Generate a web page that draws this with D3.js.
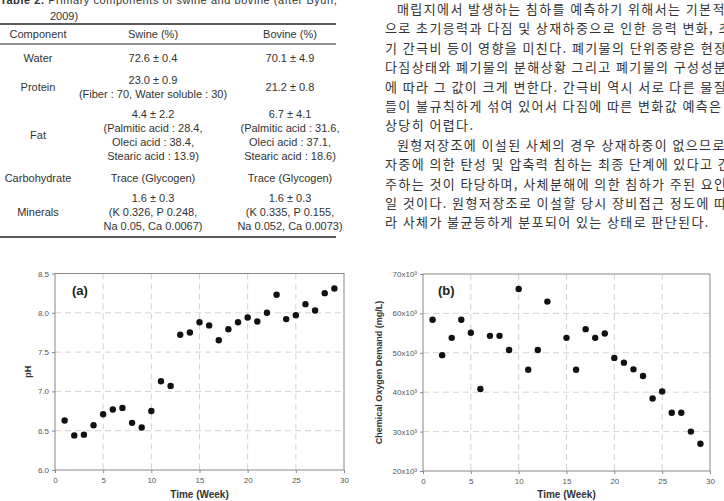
<!DOCTYPE html>
<html>
<head>
<meta charset="utf-8">
<script src="https://cdn.jsdelivr.net/npm/d3@7"></script>
<style>
  body { margin: 0; background: #fff; }
  svg { display: block; }
</style>
</head>
<body>
<svg id="page" width="724" height="501"></svg>
<script>
// Chart data
var weeksA = d3.range(1, 30)
var phValues = [6.63, 6.44, 6.45, 6.57, 6.71, 6.77, 6.79, 6.60, 6.54, 6.75,
	7.13, 7.07, 7.72, 7.75, 7.88, 7.84, 7.65, 7.79, 7.88, 7.94,
	7.89, 8.00, 8.23, 7.92, 7.97, 8.11, 8.03, 8.25, 8.31]

var weeksB = [1, 2, 3, 4, 5, 6, 7, 8, 9, 10, 11, 12, 13, 15, 16, 17, 18, 19, 20, 21, 22, 23, 24, 25, 26, 27, 28, 29]
var codValues = [58400, 49400, 53800, 58400, 55100, 40800, 54300, 54300, 50700, 66200,
	45700, 50700, 63000, 53800, 45700, 56000, 53800, 54900, 48700, 47500,
	45800, 44100, 38400, 40200, 34800, 34800, 30000, 26900]

var xTicks = [0, 5, 10, 15, 20, 25, 30]
var phTicks = [6.0, 6.5, 7.0, 7.5, 8.0, 8.5]
var codTicks = [20000, 30000, 40000, 50000, 60000, 70000]

// Table text
var tableHead = ["Component", "Swine (%)", "Bovine (%)"]
var tableComponents = ["Water", "Protein", "Fat", "Carbohydrate", "Minerals"]
var tableSwine = [
	["72.6 \u00b1 0.4"],
	["23.0 \u00b1 0.9", "(Fiber : 70, Water soluble : 30)"],
	["4.4 \u00b1 2.2", "(Palmitic acid : 28.4,", "Oleci acid : 38.4,", "Stearic acid : 13.9)"],
	["Trace (Glycogen)"],
	["1.6 \u00b1 0.3", "(K 0.326, P 0.248,", "Na 0.05, Ca 0.0067)"]
]
var tableBovine = [
	["70.1 \u00b1 4.9"],
	["21.2 \u00b1 0.8"],
	["6.7 \u00b1 4.1", "(Palmitic acid : 31.6,", "Oleci acid : 37.1,", "Stearic acid : 18.6)"],
	["Trace (Glycogen)"],
	["1.6 \u00b1 0.3", "(K 0.335, P 0.155,", "Na 0.052, Ca 0.0073)"]
]

var bodyLines = [
	"매립지에서 발생하는 침하를 예측하기 위해서는 기본적",
	"으로 초기응력과 다짐 및 상재하중으로 인한 응력 변화, 초",
	"기 간극비 등이 영향을 미친다. 폐기물의 단위중량은 현장",
	"다짐상태와 폐기물의 분해상황 그리고 폐기물의 구성성분",
	"에 따라 그 값이 크게 변한다. 간극비 역시 서로 다른 물질",
	"들이 불규칙하게 섞여 있어서 다짐에 따른 변화값 예측은",
	"상당히 어렵다.",
	"원형저장조에 이설된 사체의 경우 상재하중이 없으므로",
	"자중에 의한 탄성 및 압축력 침하는 최종 단계에 있다고 간",
	"주하는 것이 타당하며, 사체분해에 의한 침하가 주된 요인",
	"일 것이다. 원형저장조로 이설할 당시 장비접근 정도에 따",
	"라 사체가 불균등하게 분포되어 있는 상태로 판단된다."
]
var indentLines = [0, 7]

var svg = d3.select("#page")

// ---- Table ----
var tbl = svg.append("g")
	.attr("font-family", "'Liberation Sans', Arial, sans-serif")
	.attr("font-size", 11)
	.attr("fill", "#333")

var cap = tbl.append("text").attr("x", 0).attr("y", 4).attr("letter-spacing", 0.55)
cap.append("tspan").attr("font-weight", "bold").text("Table 2. ")
cap.append("tspan").text("Primary components of swine and bovine (after Byun,")
tbl.append("text").attr("x", 50).attr("y", 20).text("2009)")

var colX = [38, 153, 290]
var tableRight = 336

tbl.append("line").attr("x1", 0).attr("x2", tableRight).attr("y1", 24).attr("y2", 24)
	.attr("stroke", "#222").attr("stroke-width", 1.5)
tbl.append("line").attr("x1", 0).attr("x2", tableRight).attr("y1", 44).attr("y2", 44)
	.attr("stroke", "#222").attr("stroke-width", 1)

tbl.selectAll(".head").data(tableHead).enter().append("text")
	.attr("class", "head")
	.attr("x", function(d, i) { return colX[i] })
	.attr("y", 38)
	.attr("text-anchor", "middle")
	.text(function(d) { return d })

var lineH = 14
var rowTop = [58, 80, 114, 178, 198]
tableComponents.forEach(function(c, i) {
	var n = Math.max(tableSwine[i].length, tableBovine[i].length)
	var midY = rowTop[i] + (n - 1) * lineH / 2
	tbl.append("text").attr("x", colX[0]).attr("y", midY + 4)
		.attr("text-anchor", "middle").text(c)
	;[tableSwine[i], tableBovine[i]].forEach(function(lines, k) {
		var start = midY - (lines.length - 1) * lineH / 2
		lines.forEach(function(t, j) {
			tbl.append("text").attr("x", colX[k + 1]).attr("y", start + j * lineH + 4)
				.attr("text-anchor", "middle").text(t)
		})
	})
})

tbl.append("line").attr("x1", 0).attr("x2", tableRight).attr("y1", 237).attr("y2", 237)
	.attr("stroke", "#222").attr("stroke-width", 1.5)

// ---- Korean body text ----
svg.append("g")
	.attr("font-family", "'Noto Sans CJK KR', sans-serif")
	.attr("font-size", 13)
	.attr("letter-spacing", 1.4)
	.attr("fill", "#333")
	.selectAll("text")
	.data(bodyLines)
	.enter().append("text")
		.attr("x", function(d, i) { return indentLines.indexOf(i) >= 0 ? 397 : 385 })
		.attr("y", function(d, i) { return 14 + i * 19.4 })
		.text(function(d) { return d })

// ---- Scatter panels ----
function panel(opt) {
	var x = d3.scaleLinear().domain([0, 30]).range([opt.left, opt.right])
	var y = d3.scaleLinear().domain(opt.yDomain).range([opt.bottom, opt.top])
	var g = svg.append("g")

	// dashed grid
	g.selectAll(".vgrid").data(xTicks.slice(1, -1)).enter().append("line")
		.attr("x1", function(d) { return x(d) }).attr("x2", function(d) { return x(d) })
		.attr("y1", opt.top).attr("y2", opt.bottom)
		.attr("stroke", "#d4d4d4").attr("stroke-dasharray", "6,4")
	g.selectAll(".hgrid").data(opt.yTicks.slice(1, -1)).enter().append("line")
		.attr("x1", opt.left).attr("x2", opt.right)
		.attr("y1", function(d) { return y(d) }).attr("y2", function(d) { return y(d) })
		.attr("stroke", "#d4d4d4").attr("stroke-dasharray", "6,4")

	var xAxis = g.append("g")
		.attr("transform", "translate(0," + opt.bottom + ")")
		.call(d3.axisBottom(x).tickValues(xTicks).tickSize(3).tickPadding(4).tickFormat(d3.format("d")))
	var yAxis = g.append("g")
		.attr("transform", "translate(" + opt.left + ",0)")
		.call(d3.axisLeft(y).tickValues(opt.yTicks).tickSize(3).tickPadding(3).tickFormat(opt.fmt))
	;[xAxis, yAxis].forEach(function(a) {
		a.select(".domain").remove()
		a.selectAll("line").attr("stroke", "#888")
		a.selectAll("text").attr("fill", "#555")
			.attr("font-family", "'Liberation Sans', Arial, sans-serif").attr("font-size", 8)
	})

	g.append("rect")
		.attr("x", opt.left).attr("y", opt.top)
		.attr("width", opt.right - opt.left).attr("height", opt.bottom - opt.top)
		.attr("fill", "none").attr("stroke", "#888").attr("stroke-width", 1)

	g.selectAll("circle").data(opt.xs).enter().append("circle")
		.attr("cx", function(d) { return x(d) })
		.attr("cy", function(d, i) { return y(opt.ys[i]) })
		.attr("r", 3.2)
		.attr("fill", "#111")

	g.append("text")
		.attr("x", opt.labelX).attr("y", opt.top + 21)
		.attr("font-family", "'Liberation Sans', Arial, sans-serif")
		.attr("font-size", 13).attr("font-weight", "bold").attr("fill", "#222")
		.text(opt.label)

	g.append("text")
		.attr("x", (opt.left + opt.right) / 2).attr("y", 498)
		.attr("text-anchor", "middle")
		.attr("font-family", "'Liberation Sans', Arial, sans-serif")
		.attr("font-size", 10).attr("font-weight", "bold").attr("fill", "#333")
		.text("Time (Week)")

	g.append("text")
		.attr("transform", "translate(" + opt.titleX + "," + ((opt.top + opt.bottom) / 2) + ") rotate(-90)")
		.attr("text-anchor", "middle")
		.attr("font-family", "'Liberation Sans', Arial, sans-serif")
		.attr("font-size", 9).attr("font-weight", "bold").attr("fill", "#333")
		.text(opt.yTitle)
}

panel({
	left: 55, right: 344, top: 273.5, bottom: 470,
	yDomain: [6, 8.5], yTicks: phTicks, fmt: d3.format(".1f"),
	xs: weeksA, ys: phValues, label: "(a)", labelX: 72,
	yTitle: "pH", titleX: 31
})

panel({
	left: 423, right: 710, top: 274, bottom: 471,
	yDomain: [20000, 70000], yTicks: codTicks,
	fmt: function(d) { return (d / 1000) + "x10\u00b3" },
	xs: weeksB, ys: codValues, label: "(b)", labelX: 438,
	yTitle: "Chemical Oxygen Demand (mg/L)", titleX: 382
})
</script>
</body>
</html>
